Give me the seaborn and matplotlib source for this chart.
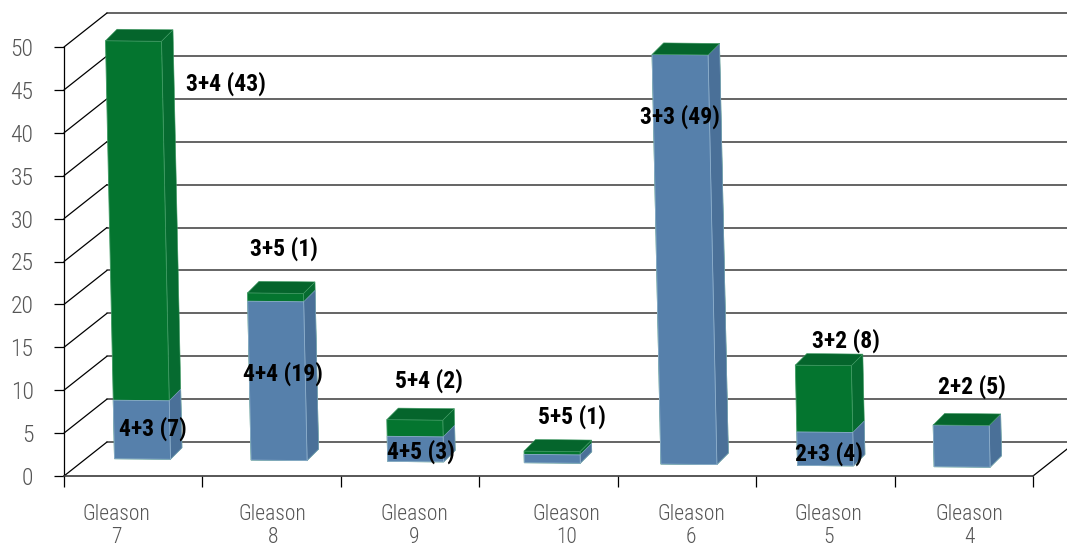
import matplotlib
matplotlib.use("Agg")
import matplotlib.pyplot as plt
import numpy as np
import seaborn as sns
from matplotlib.patches import Polygon
from matplotlib.transforms import Affine2D, IdentityTransform

# Stacked segment values per Gleason group
categories = ["Gleason\n7", "Gleason\n8", "Gleason\n9", "Gleason\n10",
              "Gleason\n6", "Gleason\n5", "Gleason\n4"]
blue_values = [7, 19, 3, 1, 49, 4, 5]
green_values = [43, 1, 2, 0.4, 0, 8, 0]
y_ticks = [0, 5, 10, 15, 20, 25, 30, 35, 40, 45, 50]

# Annotations: text above each stack and text on the lower segments
top_labels = ["3+4 (43)", "3+5 (1)", "5+4 (2)", "5+5 (1)", "3+3 (49)", "3+2 (8)", "2+2 (5)"]
inner_labels = {0: "4+3 (7)", 1: "4+4 (19)", 2: "4+5 (3)", 5: "2+3 (4)"}

# Layout, in pixels
W, H = 1067, 547
AX_LEFT, AX_RIGHT, AX_BOTTOM, AX_TOP = 64, 1033, 476, 47
WALL_DX, WALL_DY = 43, 34
BAR_DX, BAR_DY = 11.5, 11.5
top_offsets = [(92, -43), (8, 44), (14, 39), (20, 34), (0, -62), (23, 25), (11, 38)]
inner_offsets = {0: (12, -28), 1: (7, -72), 2: (6, -15), 5: (4, -22)}
tick_label_shift = [-17, 1, 4, 18, 4, 3, 6]

BLUE, BLUE_SIDE = "#5680AB", "#4A7098"
GREEN, GREEN_SIDE, GREEN_TOP = "#04752F", "#066B30", "#05652C"
BLUE_EDGE, GREEN_EDGE = "#8FAFCE", "#3E9A62"
GRID = "#3a3a3a"
TICK_TEXT = "#555555"

sns.set_style("white")
plt.rcParams["font.family"] = ["Roboto Condensed", "DejaVu Sans"]

fig = plt.figure(figsize=(W / 100, H / 100), dpi=100)
ax = fig.add_axes([AX_LEFT / W, (H - AX_BOTTOM) / H,
                   (AX_RIGHT - AX_LEFT) / W, (AX_BOTTOM - AX_TOP) / H])
ax.patch.set_alpha(0)

totals = np.array(blue_values) + np.array(green_values)

# Totals in green with the lower segment on top of them give the stack
sns.barplot(x=categories, y=totals, color=GREEN, saturation=1, width=0.41,
            edgecolor=GREEN_EDGE, linewidth=0.6, ax=ax)
n_total = len(ax.patches)
sns.barplot(x=categories, y=blue_values, color=BLUE, saturation=1, width=0.41,
            edgecolor=BLUE_EDGE, linewidth=0.6, ax=ax)

ax.set_xlim(-0.5, 6.5)
ax.set_ylim(0, 50)

# Slightly sheared plane the bars stand on (category, value) -> display pixels
bar_plane = Affine2D.from_values(136.6, -1.33, -0.18, 8.36, 142.5, H - 459)


def depth_face(corners, dx=BAR_DX, dy=BAR_DY):
    """Corners of a face reaching from two front points to the rear of a bar."""
    front = bar_plane.transform(corners)
    rear = front + np.array([dx, dy])
    return np.vstack([front, rear[::-1]])


for idx, patch in enumerate(list(ax.patches)):
    is_total = idx < n_total
    x0, x1 = patch.get_x(), patch.get_x() + patch.get_width()
    height = patch.get_height()
    patch.set_transform(bar_plane)
    patch.set_clip_on(False)
    patch.set_zorder(4 if is_total else 6)
    ax.add_patch(Polygon(depth_face([(x1, 0), (x1, height)]),
                         transform=IdentityTransform(), clip_on=False,
                         facecolor=GREEN_SIDE if is_total else BLUE_SIDE,
                         edgecolor=GREEN_EDGE if is_total else BLUE_EDGE,
                         linewidth=0.4, zorder=3 if is_total else 5))
    if is_total:
        ax.add_patch(Polygon(depth_face([(x0, height), (x1, height)]),
                             transform=IdentityTransform(), clip_on=False,
                             facecolor=GREEN_TOP, edgecolor=GREEN_EDGE,
                             linewidth=0.4, zorder=7))

# Rear wall, floor edge and the connecting diagonals
wall = ax.transData + Affine2D().translate(WALL_DX, WALL_DY)
for value in y_ticks:
    ax.plot([-0.5, 6.5], [value, value], transform=wall, color=GRID,
            lw=1.1, clip_on=False, zorder=1)
    front = ax.transData.transform((-0.5, value))
    ax.plot([front[0], front[0] + WALL_DX], [front[1], front[1] + WALL_DY],
            transform=IdentityTransform(), color="black", lw=0.9, clip_on=False, zorder=1)
floor_right = ax.transData.transform((6.5, 0))
ax.plot([floor_right[0], floor_right[0] + WALL_DX], [floor_right[1], floor_right[1] + WALL_DY],
        transform=IdentityTransform(), color="black", lw=0.9, clip_on=False, zorder=1)

# Axes frame
sns.despine(ax=ax, top=True, right=True)
ax.spines["left"].set_color("black")
ax.spines["left"].set_linewidth(0.9)
ax.spines["bottom"].set_color(GRID)
ax.spines["bottom"].set_linewidth(1.2)

ax.set_yticks(y_ticks)
ax.tick_params(axis="y", length=7, width=0.9, color="black", pad=15,
               labelsize=17, labelcolor=TICK_TEXT, left=True)
for label in ax.get_yticklabels():
    label.set_fontweight(300)
ax.set_xticks(np.arange(-0.5, 7, 1), minor=True)
ax.tick_params(axis="x", which="minor", length=8, width=0.9, color="black", bottom=True)
ax.tick_params(axis="x", which="major", length=0, pad=20.5, labelsize=15.5, labelcolor=TICK_TEXT)
for label, shift in zip(ax.get_xticklabels(), tick_label_shift):
    label.set_fontweight(300)
    label.set_linespacing(1.12)
    label.set_transform(label.get_transform() + Affine2D().translate(shift, 0))

# Segment annotations
text_style = dict(xycoords=bar_plane, textcoords="offset pixels", ha="center", va="center",
                  fontsize=17, fontweight="bold", color="black", zorder=10,
                  annotation_clip=False)
for i, text in enumerate(top_labels):
    ax.annotate(text, xy=(i, totals[i]), xytext=top_offsets[i], **text_style)
for i, text in inner_labels.items():
    ax.annotate(text, xy=(i, blue_values[i]), xytext=inner_offsets[i], **text_style)

fig.savefig("out.png", dpi=100)
